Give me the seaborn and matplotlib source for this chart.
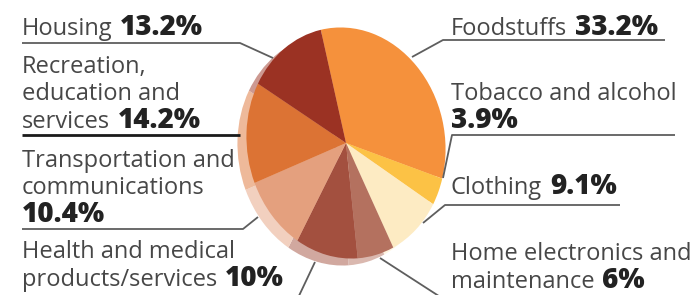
import numpy as np
import seaborn as sns
import matplotlib.pyplot as plt
from matplotlib.colors import to_rgb
from matplotlib.transforms import Affine2D

# household spending shares, clockwise from the top
categories = ['Foodstuffs', 'Tobacco and alcohol', 'Clothing',
              'Home electronics and maintenance', 'Health and medical products/services',
              'Transportation and communications', 'Recreation, education and services',
              'Housing']
shares = [33.2, 3.9, 9.1, 6, 10, 10.4, 14.2, 13.2]
share_labels = ['33.2%', '3.9%', '9.1%', '6%', '10%', '10.4%', '14.2%', '13.2%']
# how each label wraps in the picture
label_lines = ['Foodstuffs', 'Tobacco and alcohol\n', 'Clothing',
               'Home electronics and\nmaintenance', 'Health and medical\nproducts/services',
               'Transportation and\ncommunications\n', 'Recreation,\neducation and\nservices',
               'Housing']
slice_colors = ['#F5913C', '#FCC245', '#FDEBC3', '#B4715F',
                '#A3503F', '#E4A07E', '#DC7334', '#9B3223']

sns.set_style('white')
plt.rcParams['font.family'] = ['Open Sans', 'DejaVu Sans']

fig = plt.figure(figsize=(6.96, 2.95), dpi=100)
ax = fig.add_axes([0, 0, 1, 1])

cx, cy = 346, 143
rx, ry = 99, 116


def draw_pie(center, colors):
    wedges, _ = ax.pie(shares, colors=colors, startangle=-93, counterclock=True,
                       radius=1, center=(0, 0), wedgeprops=dict(linewidth=0))
    tr = Affine2D().scale(rx, ry).rotate_deg(-10).translate(*center) + ax.transData
    for w in wedges:
        w.set_transform(tr)


# lighter rim underneath for the tilted-disc look
rim_colors = [tuple(0.5 * np.array(to_rgb(c)) + 0.5) for c in slice_colors]
draw_pie((cx - 9, cy + 7), rim_colors)
draw_pie((cx, cy), slice_colors)

ax.set_aspect('auto')
ax.set_xlim(0, 696)
ax.set_ylim(295, 0)
ax.axis('off')

# label anchor: x, baseline of last line (pixels)
label_pos = [(451, 35), (451, 128), (451, 194), (451, 288),
             (22, 286), (22, 222), (22, 128), (22, 35)]
leaders = [
    [(665, 40), (443, 40), (412, 57)],
    [(675, 135), (452, 135), (443, 178)],
    [(620, 205), (445, 205), (423, 223)],
    [(380, 258), (445, 300)],
    [(315, 262), (297, 300)],
    [(22, 229), (243, 229), (258, 217)],
    [(22, 135), (240, 135)],
    [(22, 43), (240, 43), (273, 58)],
]

fs = 17
fs_bold = 20
line_h = 27.5
for text, pct, (x, y), pts in zip(label_lines, share_labels, label_pos, leaders):
    parts = text.split('\n')
    for i, line in enumerate(parts[:-1]):
        ax.text(x, y - (len(parts) - 1 - i) * line_h, line, fontsize=fs,
                color='#474747', va='baseline', ha='left')
    last = parts[-1]
    if last:
        t = ax.text(x, y, last, fontsize=fs, color='#474747', va='baseline', ha='left')
        ax.annotate(pct, xy=(1, y), xycoords=(t, 'data'), xytext=(5.5, 0),
                    textcoords='offset points', fontsize=fs_bold, fontweight='heavy',
                    color='#222222', va='baseline', ha='left')
    else:
        ax.text(x, y, pct, fontsize=fs_bold, fontweight='heavy', color='#222222',
                va='baseline', ha='left')
    xs, ys = zip(*pts)
    if text.startswith('Recreation'):
        ax.plot(xs, ys, color='#1a1a1a', lw=2, solid_capstyle='butt')
    else:
        ax.plot(xs, ys, color='#5e5e5e', lw=1.3, solid_capstyle='butt')

fig.savefig('out.png', dpi=100)
